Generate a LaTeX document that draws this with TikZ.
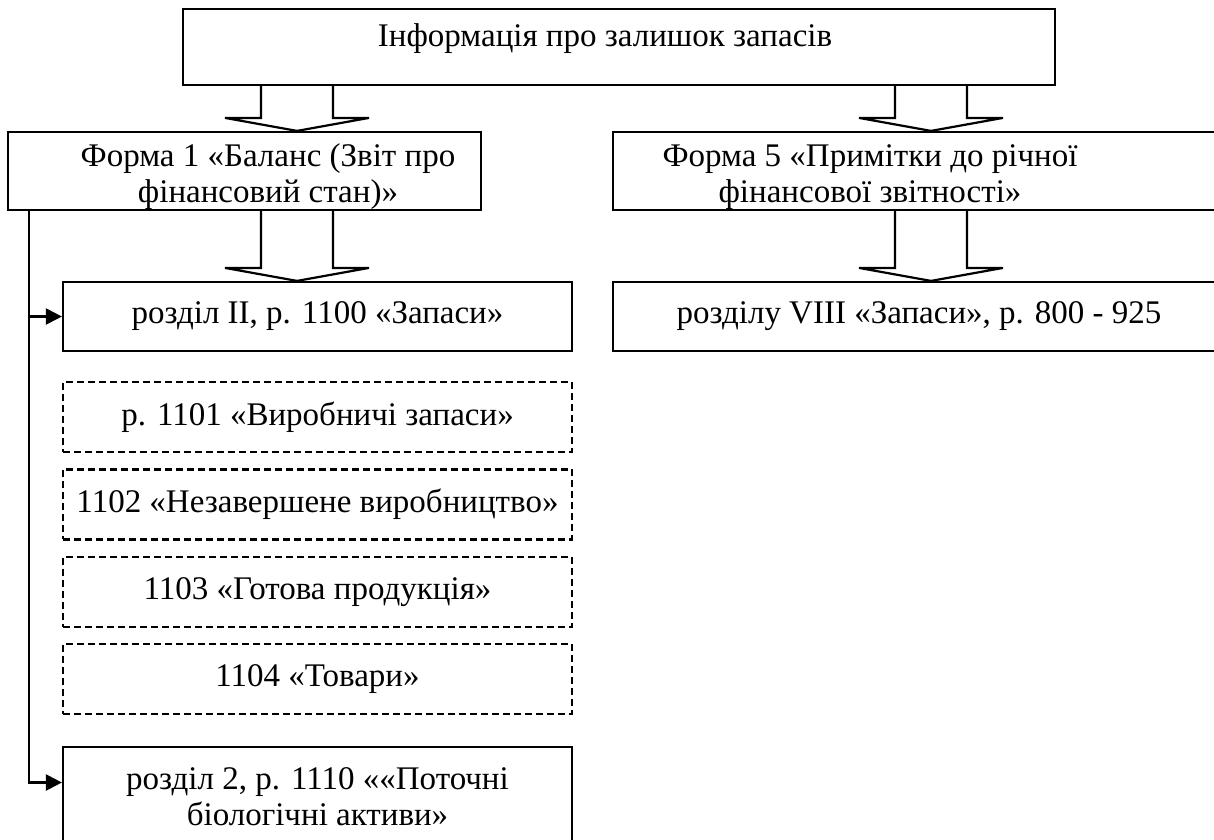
\documentclass[tikz,border=0pt]{standalone}
\usepackage{fontspec}
\setmainfont{Liberation Serif}
\usepackage{tikz}
\usetikzlibrary{arrows.meta,positioning,calc}

% wide hollow arrow between two boxes: #1 = x of its axis
\newcommand{\blockarrow}[3]{%
  \draw[fill=white] (#2.south -| #1-36,0) -- ($(#3.north -| #1-36,0)+(0,-13)$)
    -- ++(-36,0) -- (#3.north -| #1,0) -- ++(72,-13) -- ++(-36,0)
    -- (#2.south -| #1+36,0);}

\begin{document}
\begin{tikzpicture}[x=1pt,y=-1pt,>={Triangle[length=16pt,width=16pt]},
                    line width=2.2pt,node distance=15pt,
                    font=\fontsize{33}{36}\selectfont,
                    box/.style={draw,rectangle,inner sep=0pt,align=center},
                    dbox/.style={box,dash pattern=on 7pt off 4pt,
                                 minimum width=509pt,minimum height=70pt}]
%  \draw[help lines] (0,0) grid[step=50] (1214,839);
  \useasboundingbox (0,0) rectangle (1214,839);

  \node[box,minimum width=872pt,minimum height=76pt] (info)  at (619,47)    {};
  \node                                     (infotext)  at (605,39)    {Інформація про залишок запасів};

  \node[box,minimum width=473pt,minimum height=78pt] (form1) at (244.5,171) {};
  \node[align=center]                       (form1text) at (268,177)   {Форма 1 «Баланс (Звіт про\\фінансовий стан)»};
  \node[box,minimum width=612pt,minimum height=78pt] (form5) at (919,171)   {};
  \node[align=center]                       (form5text) at (870,177)   {Форма 5 «Примітки до річної\\фінансової звітності»};

  \node[box,minimum width=509pt,minimum height=69pt] (rII)   at (317.5,316.5) {розділ II, р. 1100 «Запаси»};
  \node[box,minimum width=612pt,minimum height=69pt] (rVIII) at (919,316.5)   {розділу VIII «Запаси», р. 800 - 925};

  \node[dbox] (r1101) [below=29pt of rII]   {р. 1101 «Виробничі запаси»};
  \node[dbox] (r1102) [below=of r1101]      {1102 «Незавершене виробництво»};
  \node[dbox] (r1103) [below=of r1102]      {1103 «Готова продукція»};
  \node[dbox] (r1104) [below=of r1103]      {1104 «Товари»};
  \node[box,minimum width=509pt,minimum height=99pt] (r1110) [below=31pt of r1104]
        {розділ 2, р. 1110 ««Поточні\\біологічні активи»};

  \blockarrow{297}{info}{form1}
  \blockarrow{931}{info}{form5}
  \blockarrow{297}{form1}{rII}
  \blockarrow{931}{form5}{rVIII}

  \coordinate (trunk)   at (29,0);
  \coordinate (r1110in) at ([yshift=14pt]r1110.west);
  \draw[->] (form1.south -| trunk) |- (rII.west);
  \draw[->] (form1.south -| trunk) |- (r1110in);

\end{tikzpicture}
\end{document}
